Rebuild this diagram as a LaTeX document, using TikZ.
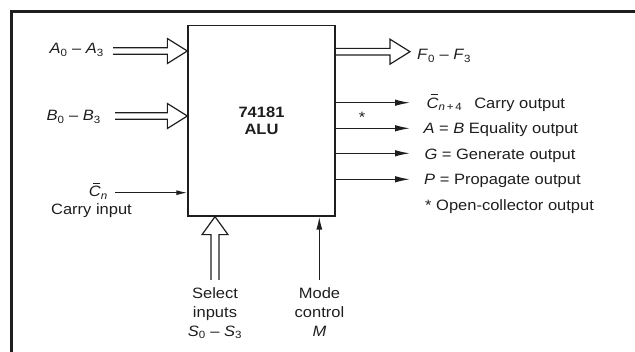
\documentclass[tikz,border=0pt]{standalone}
\usepackage{fontspec}
\setmainfont{Liberation Sans}[FakeStretch=1.1]
\usetikzlibrary{arrows.meta,calc}
\definecolor{ink}{RGB}{30,30,30}
\newcommand\itx[1]{\textit{#1}}
\newcommand\subx[1]{\textsubscript{#1}}
\newcommand\cbar{\textit{C}\llap{\rule[13pt]{6.5pt}{0.9pt}\hspace{1.2pt}}}
\newcommand\hollowR[2]{\draw[hollow] ($(#1)+(0,-3.3)$) -- ($(#2)+(-20,-3.3)$) -- ($(#2)+(-20,-12.5)$) -- (#2) -- ($(#2)+(-20,12.5)$) -- ($(#2)+(-20,3.3)$) -- ($(#1)+(0,3.3)$);}
\newcommand\hollowU[2]{\draw[hollow] ($(#1)+(-4,0)$) -- ($(#2)+(-4,18)$) -- ($(#2)+(-13,18)$) -- (#2) -- ($(#2)+(13,18)$) -- ($(#2)+(4,18)$) -- ($(#1)+(4,0)$);}
\begin{document}
\begin{tikzpicture}[x=1pt,y=-1pt,
  lbl/.style={font=\fontsize{15}{19}\selectfont, inner sep=0pt, text=ink},
  hollow/.style={draw=ink, line width=1.2pt, line join=miter},
  outarr/.style={draw=ink, line width=1.3pt, -{Latex[length=15pt,width=6.5pt]}},
  inarr/.style={draw=ink, line width=1.2pt, -{Latex[length=11pt,width=5pt]}},
  modearr/.style={draw=ink, line width=1.3pt, -{Latex[length=13pt,width=6pt]}}]
\useasboundingbox (0,0) rectangle (635,352);
\draw[draw=ink, line width=2.6pt, line join=miter] (11.5,352) -- (11.5,11.5) -- (635,11.5);

\node[draw=ink, line width=1.3pt, minimum width=147pt, minimum height=190.3pt, inner sep=0pt,
      align=center, text=ink, font=\bfseries\fontsize{15}{17.5}\selectfont] (alu) at (261.5,120.85) {74181\\ALU};

% input labels
\node[lbl, anchor=base east] (aLab) at (104,54) {\itx{A}\subx{0} -- \itx{A}\subx{3}};
\node[lbl, anchor=base east] (bLab) at (101,121) {\itx{B}\subx{0} -- \itx{B}\subx{3}};
\node[lbl, anchor=base east] (cLab) at (108,197) {\cbar\subx{\itx{n}}};
\node[lbl, anchor=base] (cTxt) at (91.5,215) {Carry input};
\node[lbl, align=center, anchor=north] (sLab) at (215,287) {Select\\inputs\\\itx{S}\subx{0} -- \itx{S}\subx{3}};
\node[lbl, align=center, anchor=north] (mLab) at (319.5,287) {Mode\\control\\\itx{M}};

% output labels
\node[lbl, anchor=base west] (fLab) at (417,60) {\itx{F}\subx{0} -- \itx{F}\subx{3}};
\node[lbl, anchor=base west] (o1) at (426.5,108.3) {\cbar\subx{\itx{n}\,+\,4}\hspace{12pt}Carry output};
\node[lbl, anchor=base west] (o2) at (423.3,134) {\itx{A} = \itx{B} Equality output};
\node[lbl, anchor=base west] (o3) at (424.3,159.3) {\itx{G} = Generate output};
\node[lbl, anchor=base west] (o4) at (424,185) {\itx{P} = Propagate output};
\node[lbl, anchor=base west] (o5) at (425,210.7) {* Open-collector output};
\node[lbl, anchor=base] (star) at (362,122.5) {*};

% hollow bus arrows
\coordinate (aS) at (113,51);
\coordinate (aT) at (alu.west |- aS);
\hollowR{aS}{aT}
\coordinate (bS) at (115,116);
\coordinate (bT) at (alu.west |- bS);
\hollowR{bS}{bT}
\coordinate (fT) at (410,51.7);
\coordinate (fS) at (alu.east |- fT);
\hollowR{fS}{fT}
\coordinate (sS) at (215,280);
\coordinate (sT) at (alu.south -| sS);
\hollowU{sS}{sT}

% single-line arrows
\coordinate (cS) at (115,192.7);
\draw[inarr] (cS) -- (alu.west |- cS);
\coordinate (mS) at (319.3,280);
\draw[modearr] (mS) -- (alu.south -| mS);
\coordinate (e1) at (410,102.7);
\coordinate (e2) at (410,128.3);
\coordinate (e3) at (410,153.3);
\coordinate (e4) at (410,179.3);
\draw[outarr] (alu.east |- e1) -- (e1);
\draw[outarr] (alu.east |- e2) -- (e2);
\draw[outarr] (alu.east |- e3) -- (e3);
\draw[outarr] (alu.east |- e4) -- (e4);
\end{tikzpicture}
\end{document}
